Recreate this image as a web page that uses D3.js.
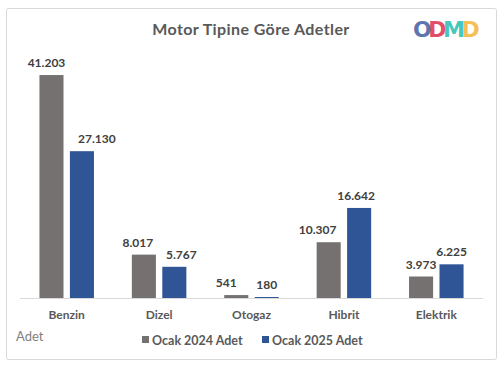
<!DOCTYPE html>
<html>
<head>
<meta charset="utf-8">
<script src="https://cdn.jsdelivr.net/npm/d3@7"></script>
<style>
    body{ margin:0; background:#ffffff; }
    svg{ display:block; font-family:Lato, "Open Sans", sans-serif; }
</style>
</head>
<body>
<svg id="chart" width="501" height="372"></svg>
<script>
// data
const categories = ['Benzin', 'Dizel', 'Otogaz', 'Hibrit', 'Elektrik'];
const seriesNames = ['Ocak 2024 Adet', 'Ocak 2025 Adet'];
const values2024 = [41203, 8017, 541, 10307, 3973];
const values2025 = [27130, 5767, 180, 16642, 6225];
const seriesColors = ['#767171', '#2f5597'];

const title = 'Motor Tipine Göre Adetler';
const unitLabel = 'Adet';
const logoLetters = ['O', 'D', 'M', 'D'];
const logoColors = ['#4f67a8', '#e23b58', '#35c2b6', '#f5b945'];

// small nudges for the data labels that were hand-moved in the original
const labelNudge = [
    [-5, 15],
    [-6, 7],
    [-10, 0],
    [-11, -3],
    [0, 0]
];

const svg = d3.select('#chart');

// frame
svg.append('rect')
    .attr('x', 6.5)
    .attr('y', 8.5)
    .attr('width', 490)
    .attr('height', 351)
    .attr('rx', 2)
    .style('fill', '#ffffff')
    .style('stroke', '#d9d9d9');

svg.append('text')
    .text(title)
    .attr('x', 251)
    .attr('y', 35)
    .attr('text-anchor', 'middle')
    .style('font-size', '16px')
    .style('letter-spacing', '0.4px')
    .style('font-weight', 'bold')
    .style('fill', '#595959');

// logo, one text with coloured letters squeezed together
const logo = svg.append('text')
    .attr('x', 413)
    .attr('y', 37)
    .style('font-family', '"DejaVu Sans", sans-serif')
    .style('font-weight', 'bold')
    .style('font-size', '22px')
    .style('letter-spacing', '-3.5px');
logo.selectAll('tspan')
    .data(logoLetters)
    .enter()
    .append('tspan')
    .text(d => d)
    .style('fill', (d, i) => logoColors[i])
    .style('fill-opacity', 0.93);

// scales
const x0 = d3.scaleBand()
    .domain(categories)
    .range([20.5, 482.5])
    .paddingInner(0.41)
    .paddingOuter(0.205);

const x1 = d3.scaleBand()
    .domain(seriesNames)
    .range([0, x0.bandwidth()])
    .paddingInner(0.21);

const y = d3.scaleLinear()
    .domain([0, 45000])
    .range([298, 54.5]);

const rows = categories.map((c, i) => ({
    cat: c,
    idx: i,
    vals: [values2024[i], values2025[i]]
}));

const fmt = v => d3.format(',')(v).replace(/,/g, '.');

const groups = svg.selectAll('.group')
    .data(rows)
    .enter()
    .append('g')
    .attr('transform', d => 'translate(' + x0(d.cat) + ',0)');

groups.selectAll('rect')
    .data(d => d.vals.map((v, k) => ({v: v, k: k, idx: d.idx})))
    .enter()
    .append('rect')
    .attr('x', d => x1(seriesNames[d.k]))
    .attr('y', d => y(d.v))
    .attr('width', x1.bandwidth())
    .attr('height', d => y(0) - y(d.v))
    .style('fill', d => seriesColors[d.k]);

groups.selectAll('.valueLabel')
    .data(d => d.vals.map((v, k) => ({v: v, k: k, idx: d.idx})))
    .enter()
    .append('text')
    .text(d => fmt(d.v))
    .attr('x', d => x1(seriesNames[d.k]) + x1.bandwidth() / 2 + labelNudge[d.idx][d.k])
    .attr('y', d => y(d.v) - 8)
    .attr('text-anchor', 'middle')
    .style('font-size', '12px')
    .style('font-weight', 'bold')
    .style('fill', '#404040');

// baseline
svg.append('line')
    .attr('x1', 20)
    .attr('x2', 483)
    .attr('y1', y(0) + 0.5)
    .attr('y2', y(0) + 0.5)
    .style('stroke', '#d9d9d9');

// category axis
const xAxis = svg.append('g')
    .attr('transform', 'translate(0,' + y(0) + ')')
    .call(d3.axisBottom(x0).tickSize(0).tickPadding(12));
xAxis.select('.domain').remove();
xAxis.selectAll('text')
    .style('font-family', 'Lato, sans-serif')
    .style('font-size', '12px')
    .style('font-weight', 'bold')
    .style('fill', '#595959');

svg.append('text')
    .text(unitLabel)
    .attr('x', 16)
    .attr('y', 341)
    .style('font-size', '13px')
    .style('fill', '#808080');

// legend
const legendX = [142, 262];
const legend = svg.selectAll('.legendItem')
    .data(seriesNames)
    .enter()
    .append('g')
    .attr('transform', (d, i) => 'translate(' + legendX[i] + ',340)');

legend.append('rect')
    .attr('x', 0)
    .attr('y', -4)
    .attr('width', 7)
    .attr('height', 7)
    .style('fill', (d, i) => seriesColors[i]);

legend.append('text')
    .text(d => d)
    .attr('x', 10)
    .attr('y', 4.5)
    .style('font-size', '12.5px')
    .style('font-weight', 'bold')
    .style('fill', '#595959');
</script>
</body>
</html>
